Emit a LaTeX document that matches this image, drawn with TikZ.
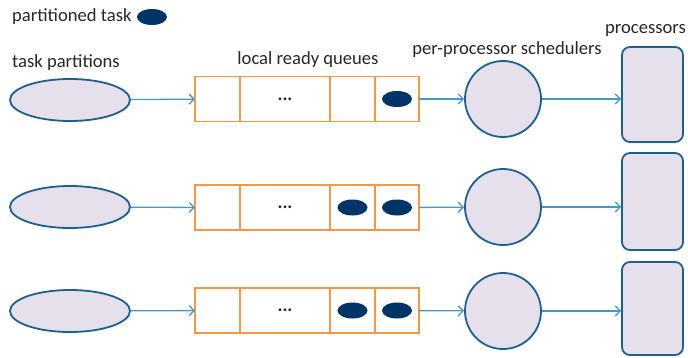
\documentclass[tikz,border=0pt]{standalone}
\usepackage{fontspec}
\setmainfont{Carlito}
\usepackage{tikz}
\usetikzlibrary{arrows.meta,positioning,shapes.geometric}

\definecolor{lav}{RGB}{230,224,236}
\definecolor{edgeblue}{RGB}{31,95,140}
\definecolor{arrblue}{RGB}{70,150,205}
\definecolor{qorange}{RGB}{247,150,70}
\definecolor{taskblue}{RGB}{0,51,102}

\begin{document}
\begin{tikzpicture}[
  x=1pt, y=-1pt,
  font=\fontsize{18.6}{21}\selectfont,
  text=black!85,
  part/.style={ellipse, draw=edgeblue, line width=1.8pt, fill=lav, minimum width=120pt, minimum height=42pt, inner sep=0pt},
  cell/.style={rectangle, draw=qorange, line width=1.8pt, minimum height=45pt, inner sep=0pt, outer sep=0pt},
  task/.style={ellipse, fill=taskblue, minimum width=30pt, minimum height=16pt, inner sep=0pt},
  sched/.style={circle, draw=edgeblue, line width=1.8pt, fill=lav, minimum size=76pt, inner sep=0pt},
  proc/.style={rectangle, draw=edgeblue, line width=1.8pt, fill=lav, rounded corners=8pt, minimum width=61pt, minimum height=95pt, inner sep=0pt},
  flow/.style={draw=arrblue, line width=1.3pt, -{Straight Barb[length=5pt,width=10pt]}},
]
\useasboundingbox (0,0) rectangle (688,357);
% legend and column titles
\node[anchor=west, inner sep=0pt] (legend) at (12,17) {partitioned task};
\node[task, right=5pt of legend] (legtask) {};
\node[anchor=west, inner sep=0pt] (tpart) at (12,63) {task partitions};
\node[inner sep=0pt] (lrq) at (308,60) {local ready queues};
\node[inner sep=0pt] (pps) at (507,50) {per-processor schedulers};
\node[anchor=west, inner sep=0pt] (procs) at (605,30) {processors};
% row 1
\node[part] (p1) at (70,100) {};
\node[cell, minimum width=45pt, anchor=west] (q1a) at (195,99) {};
\node[cell, minimum width=90pt, right=0pt of q1a] (q1b) {\textbf{...}};
\node[cell, minimum width=45pt, right=0pt of q1b] (q1c) {};
\node[cell, minimum width=44pt, right=0pt of q1c] (q1d) {};
\node[task] (t1d) at (q1d) {};
\node[sched] (s1) at (503,99) {};
\node[proc] (c1) at (652.5,94.5) {};
% row 2
\node[part] (p2) at (70,207) {};
\node[cell, minimum width=45pt, anchor=west] (q2a) at (195,207.5) {};
\node[cell, minimum width=90pt, right=0pt of q2a] (q2b) {\textbf{...}};
\node[cell, minimum width=45pt, right=0pt of q2b] (q2c) {};
\node[cell, minimum width=44pt, right=0pt of q2c] (q2d) {};
\node[task] (t2c) at (q2c) {};
\node[task] (t2d) at (q2d) {};
\node[sched] (s2) at (503,207) {};
\node[proc, minimum height=97pt] (c2) at (652.5,201.5) {};
% row 3
\node[part] (p3) at (70,311) {};
\node[cell, minimum width=45pt, anchor=west] (q3a) at (195,310.5) {};
\node[cell, minimum width=90pt, right=0pt of q3a] (q3b) {\textbf{...}};
\node[cell, minimum width=45pt, right=0pt of q3b] (q3c) {};
\node[cell, minimum width=44pt, right=0pt of q3c] (q3d) {};
\node[task] (t3c) at (q3c) {};
\node[task] (t3d) at (q3d) {};
\node[sched] (s3) at (503,311) {};
\node[proc, minimum height=93pt] (c3) at (652.5,308.5) {};
% connectors
\draw[flow] (p1) -- (q1a);
\draw[flow] (q1d) -- (s1);
\draw[flow] (s1) -- (s1 -| c1.west);
\draw[flow] (p2) -- (q2a);
\draw[flow] (q2d) -- (s2);
\draw[flow] (s2) -- (s2 -| c2.west);
\draw[flow] (p3) -- (q3a);
\draw[flow] (q3d) -- (s3);
\draw[flow] (s3) -- (s3 -| c3.west);
\end{tikzpicture}
\end{document}
